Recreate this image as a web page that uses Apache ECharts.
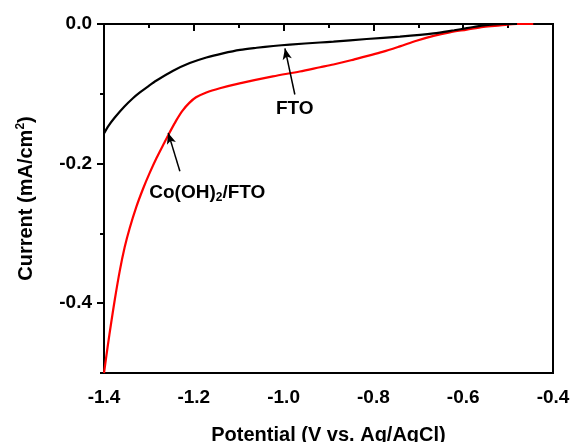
<!DOCTYPE html>
<html>
<head>
<meta charset="utf-8">
<script src="https://cdn.jsdelivr.net/npm/echarts@6/dist/echarts.min.js"></script>
<style>
html,body{margin:0;padding:0;background:#fff;}
#chart{width:571px;height:442px;}
</style>
</head>
<body>
<div id="chart"></div>
<script>
// Data (Potential V vs Ag/AgCl, Current mA/cm^2)
const ftoX = [-1.400,-1.390,-1.376,-1.355,-1.335,-1.320,-1.300,-1.283,-1.246,-1.209,-1.172,-1.135,-1.097,-1.060,-1.023,-0.986,-0.919,-0.889,-0.815,-0.741,-0.666,-0.620,-0.592,-0.555,-0.533,-0.510,-0.480];
const ftoY = [-0.157,-0.146,-0.134,-0.1185,-0.106,-0.098,-0.0885,-0.081,-0.067,-0.056,-0.048,-0.042,-0.037,-0.034,-0.0315,-0.0295,-0.0265,-0.0252,-0.0215,-0.018,-0.0135,-0.009,-0.006,-0.002,-0.0005,0.000,0.000];
const coX = [-1.400,-1.392,-1.384,-1.376,-1.365,-1.354,-1.343,-1.328,-1.313,-1.298,-1.283,-1.268,-1.2535,-1.239,-1.225,-1.210,-1.195,-1.172,-1.142,-1.098,-1.024,-0.964,-0.919,-0.889,-0.850,-0.815,-0.780,-0.741,-0.704,-0.666,-0.630,-0.592,-0.555,-0.518,-0.481,-0.444];
const coY = [-0.500,-0.463,-0.428,-0.395,-0.354,-0.320,-0.293,-0.262,-0.236,-0.213,-0.192,-0.173,-0.155,-0.138,-0.124,-0.113,-0.105,-0.098,-0.092,-0.085,-0.075,-0.068,-0.062,-0.058,-0.052,-0.046,-0.040,-0.032,-0.024,-0.017,-0.012,-0.008,-0.004,-0.002,0.000,0.000];
const xMajorTicks = [-1.4,-1.2,-1.0,-0.8,-0.6,-0.4];
const xMinorTicks = [-1.3,-1.1,-0.9,-0.7,-0.5];
const yMajorTicks = [0.0,-0.2,-0.4];
const yMinorTicks = [-0.1,-0.3,-0.5];
// annotation anchors (data coords)
const ftoArrow = [[-0.975,-0.101],[-0.997,-0.035]];
const coArrow = [[-1.231,-0.211],[-1.257,-0.156]];
const ftoLabelPos = [-0.975,-0.121];
const coLabelPos = [-1.170,-0.242];

const FONT = '"Liberation Sans", Arial, sans-serif';
const chart = echarts.init(document.getElementById('chart'));
const fmt = v => Number(v).toFixed(1);
const pairs = (xs, ys) => xs.map((x,i)=>[x, ys[i]]);
const gridBox = {left:104,right:18,top:24,bottom:69,outerBoundsMode:'none',containLabel:false};

const option = {
  animation:false,
  backgroundColor:'#fff',
  grid:[
    Object.assign({show:true,borderColor:'#000',borderWidth:2,backgroundColor:'transparent'},gridBox),
    Object.assign({show:false},gridBox)
  ],
  xAxis:[{
    type:'value',gridIndex:0,min:-1.4,max:-0.4,position:'bottom',
    name:'Potential (V vs. Ag/AgCl)',nameLocation:'middle',nameGap:52,
    nameTextStyle:{fontFamily:FONT,fontWeight:'bold',fontSize:20,color:'#000'},
    axisLine:{show:true,lineStyle:{color:'#000',width:2}},
    axisTick:{show:true,inside:false,length:7,lineStyle:{color:'#000',width:2},customValues:xMajorTicks},
    axisLabel:{show:true,customValues:xMajorTicks,formatter:fmt,margin:15,fontFamily:FONT,fontWeight:'bold',fontSize:19,color:'#000'},
    splitLine:{show:false}
  },{
    type:'value',gridIndex:1,min:-1.4,max:-0.4,position:'bottom',
    axisLine:{show:false},
    axisTick:{show:true,length:4,lineStyle:{color:'#000',width:2},customValues:xMinorTicks},
    axisLabel:{show:false},splitLine:{show:false}
  }],
  yAxis:[{
    type:'value',gridIndex:0,min:-0.5,max:0,position:'left',
    name:'{a|Current (mA/cm}{s|2}{a|)}',nameLocation:'middle',nameGap:67,nameRotate:90,
    nameTextStyle:{rich:{
      a:{fontFamily:FONT,fontWeight:'bold',fontSize:20,color:'#000'},
      s:{fontFamily:FONT,fontWeight:'bold',fontSize:12,color:'#000',padding:[0,0,10,0]}
    }},
    axisLine:{show:true,lineStyle:{color:'#000',width:2}},
    axisTick:{show:true,length:7,lineStyle:{color:'#000',width:2},customValues:yMajorTicks},
    axisLabel:{show:true,customValues:yMajorTicks,formatter:fmt,margin:12,fontFamily:FONT,fontWeight:'bold',fontSize:19,color:'#000'},
    splitLine:{show:false}
  },{
    type:'value',gridIndex:1,min:-0.5,max:0,position:'left',
    axisLine:{show:false},
    axisTick:{show:true,length:4,lineStyle:{color:'#000',width:2},customValues:yMinorTicks},
    axisLabel:{show:false},splitLine:{show:false}
  }],
  series:[{
    name:'FTO',type:'line',xAxisIndex:0,yAxisIndex:0,
    data:pairs(ftoX,ftoY),showSymbol:false,smooth:0.3,
    lineStyle:{color:'#000',width:2.2},itemStyle:{color:'#000'},z:3,
    markLine:{silent:true,symbol:['none','arrow'],symbolSize:[7,11],
      lineStyle:{color:'#000',width:1.5,type:'solid'},label:{show:false},
      data:[[{coord:ftoArrow[0]},{coord:ftoArrow[1]}]]},
    markPoint:{silent:true,symbol:'circle',symbolSize:0,
      label:{show:true,position:'inside',formatter:'FTO',fontFamily:FONT,fontWeight:'bold',fontSize:19,color:'#000'},
      data:[{coord:ftoLabelPos}]}
  },{
    name:'Co(OH)2/FTO',type:'line',xAxisIndex:0,yAxisIndex:0,
    data:pairs(coX,coY),showSymbol:false,smooth:0.3,
    lineStyle:{color:'#ff0000',width:2.2},itemStyle:{color:'#ff0000'},z:2,
    markLine:{silent:true,symbol:['none','arrow'],symbolSize:[7,11],
      lineStyle:{color:'#000',width:1.5,type:'solid'},label:{show:false},
      data:[[{coord:coArrow[0]},{coord:coArrow[1]}]]},
    markPoint:{silent:true,symbol:'circle',symbolSize:0,
      label:{show:true,position:'inside',formatter:'{a|Co(OH)}{s|2}{a|/FTO}',
        rich:{a:{fontFamily:FONT,fontWeight:'bold',fontSize:19,color:'#000'},
              s:{fontFamily:FONT,fontWeight:'bold',fontSize:12,color:'#000',padding:[10,0,0,0]}}},
      data:[{coord:coLabelPos}]}
  }]
};
chart.setOption(option);
</script>
</body>
</html>
